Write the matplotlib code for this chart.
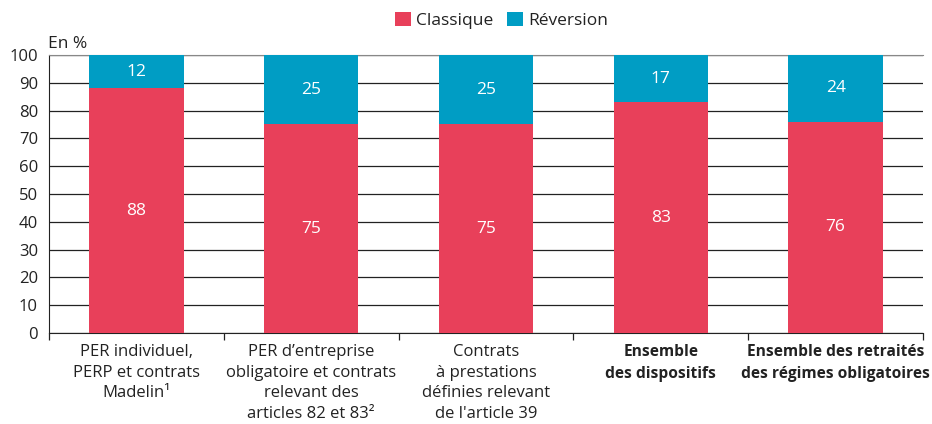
import matplotlib.pyplot as plt
import numpy as np

# data
categories = [
    "PER individuel,\nPERP et contrats\nMadelin\u00b9",
    "PER d\u2019entreprise\nobligatoire et contrats\nrelevant des\narticles 82 et 83\u00b2",
    "Contrats\n\u00e0 prestations\nd\u00e9finies relevant\nde l'article 39",
    "Ensemble\ndes dispositifs",
    "Ensemble des retrait\u00e9s\ndes r\u00e9gimes obligatoires",
]
bold_labels = [False, False, False, True, True]
classique = [88, 75, 75, 83, 76]
reversion = [12, 25, 25, 17, 24]

RED = "#E8405A"
TEAL = "#009DC4"
TXT = "#222222"

plt.rcParams['font.family'] = ['Open Sans', 'DejaVu Sans']

fig = plt.figure(figsize=(9.32, 4.24), dpi=100)
ax = fig.add_axes([0.0526, 0.2146, 0.9378, 0.6557])

x = np.arange(len(categories))
w = 0.54
ax.bar(x, classique, w, color=RED, label="Classique", zorder=3)
ax.bar(x, reversion, w, bottom=classique, color=TEAL, label="R\u00e9version", zorder=3)

for xi, c, r in zip(x, classique, reversion):
    ax.text(xi, c / 2, str(c), ha='center', va='center', color='white', fontsize=12.5, zorder=4)
    ax.text(xi, c + r / 2, str(r), ha='center', va='center', color='white', fontsize=12.5, zorder=4)

ax.set_xlim(-0.5, len(categories) - 0.5)
ax.set_ylim(0, 100)
ax.set_yticks(np.arange(0, 101, 10))
ax.yaxis.grid(True, color='#222222', linewidth=0.9, zorder=0)
ax.tick_params(axis='y', length=0, labelsize=12, labelcolor=TXT, pad=8)

# category boundary ticks
ax.set_xticks(np.arange(-0.5, len(categories), 1.0))
ax.set_xticklabels([])
ax.tick_params(axis='x', length=5, width=0.9, color='#222222')
for xi, lab, b in zip(x, categories, bold_labels):
    ax.text(xi, -4.0, lab, ha='center', va='top', fontsize=11.2 if b else 12,
            color=TXT, fontweight='bold' if b else 'normal',
            linespacing=1.45 if b else 1.38, transform=ax.transData)

ax.spines['right'].set_visible(False)
ax.spines['top'].set_color('#888888')
ax.spines['left'].set_color('#222222')
ax.spines['bottom'].set_color('#222222')

ax.text(-0.001, 1.01, "En %", transform=ax.transAxes, ha='left', va='bottom',
        fontsize=12.5, color=TXT)

fig.legend(loc='center', bbox_to_anchor=(0.538, 0.952), ncol=2, frameon=False,
           fontsize=12.5, handlelength=0.9, handleheight=0.9, handletextpad=0.3,
           columnspacing=0.8, labelcolor=TXT)

fig.savefig("out.png", dpi=100)
